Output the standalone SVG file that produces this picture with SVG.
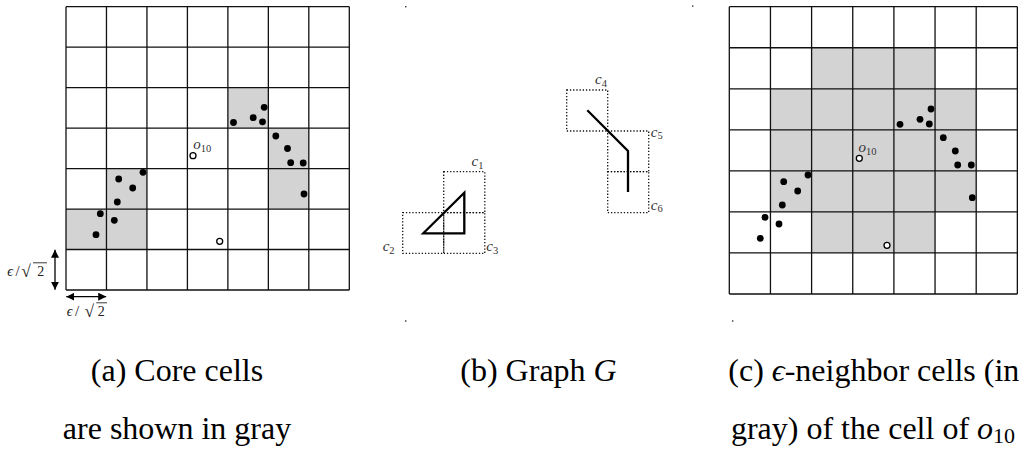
<svg xmlns="http://www.w3.org/2000/svg" width="1024" height="450" viewBox="0 0 1024 450">
<defs>
<style>
.gray{fill:#d3d3d3}
.grid{stroke:#111;stroke-width:1.3;fill:none}
.dots{fill:#000}
.open{fill:#fff;stroke:#000;stroke-width:1.3}
.dotted{fill:none;stroke:#111;stroke-width:1.3;stroke-dasharray:1.3 1.9}
.thick{fill:none;stroke:#000;stroke-width:2.3}
.mark{fill:#333}
.dim{stroke:#000;stroke-width:1.3}
.ovl{stroke:#222;stroke-width:0.9}
</style>
<marker id="ah" viewBox="0 0 10 10" refX="10" refY="5" markerWidth="8" markerHeight="8" markerUnits="userSpaceOnUse" orient="auto-start-reverse">
<path d="M0,0 L10,5 L0,10 Z" fill="#000"/>
</marker>
</defs>
<g id="panel-a">
<g id="a-core-cells" class="gray">
<rect x="227.88" y="87.64" width="40.47" height="40.47"/>
<rect x="268.35" y="128.11" width="40.47" height="80.94"/>
<rect x="106.47" y="168.58" width="40.47" height="40.47"/>
<rect x="66" y="209.05" width="80.94" height="40.47"/>
</g>
<g id="a-grid" class="grid">
<path d="M66,6.7V290M106.47,6.7V290M146.94,6.7V290M187.41,6.7V290M227.88,6.7V290M268.35,6.7V290M308.82,6.7V290M349.3,6.7V290"/>
<path d="M66,6.7H349.3M66,47.17H349.3M66,87.64H349.3M66,128.11H349.3M66,168.58H349.3M66,209.05H349.3M66,249.52H349.3M66,290H349.3"/>
</g>
<g id="a-points" class="dots">
<circle cx="233.5" cy="122.5" r="3.4"/>
<circle cx="253.2" cy="117.7" r="3.4"/>
<circle cx="262.5" cy="121.8" r="3.4"/>
<circle cx="264.2" cy="107.3" r="3.4"/>
<circle cx="275.8" cy="136" r="3.4"/>
<circle cx="287.5" cy="148.5" r="3.4"/>
<circle cx="290.7" cy="162.7" r="3.4"/>
<circle cx="303.2" cy="163" r="3.4"/>
<circle cx="304" cy="194" r="3.4"/>
<circle cx="143" cy="172.3" r="3.4"/>
<circle cx="118.7" cy="179" r="3.4"/>
<circle cx="132.7" cy="188" r="3.4"/>
<circle cx="117.3" cy="202" r="3.4"/>
<circle cx="100.3" cy="213.7" r="3.4"/>
<circle cx="114.3" cy="220.3" r="3.4"/>
<circle cx="96" cy="234.7" r="3.4"/>
</g>
<g id="a-open-points" class="open">
<circle cx="193" cy="155.7" r="3"/>
<circle cx="219.7" cy="241.3" r="3"/>
</g>
<text x="193.3" y="148.5" font-family="Liberation Serif, serif" font-size="15" font-style="italic" fill="#333">o<tspan font-size="10.5" font-style="normal" dy="3">10</tspan></text>
<g id="a-dims">
<line class="dim" x1="55" y1="249.8" x2="55" y2="289.7" marker-start="url(#ah)" marker-end="url(#ah)"/>
<line class="dim" x1="66.3" y1="296.7" x2="106.2" y2="296.7" marker-start="url(#ah)" marker-end="url(#ah)"/>
<g font-family="Liberation Serif, serif" fill="#222">
<text x="7.3" y="276" font-size="14" font-style="italic">ϵ</text>
<text x="15.5" y="276" font-size="15">/</text>
<text x="21.5" y="277" font-size="17">√</text>
<text x="37.3" y="276" font-size="14">2</text>
<text x="66.7" y="316" font-size="14" font-style="italic">ϵ</text>
<text x="74.9" y="316" font-size="15">/</text>
<text x="84.8" y="317" font-size="17">√</text>
<text x="97.7" y="316" font-size="14">2</text>
</g>
<line class="ovl" x1="33" y1="262.8" x2="47" y2="262.8"/>
<line class="ovl" x1="96.3" y1="302.8" x2="107" y2="302.8"/>
</g>
<g font-family="Liberation Serif, serif" font-size="32" text-anchor="middle" fill="#000">
<text x="177" y="381">(a) Core cells</text>
<text x="177" y="438.5">are shown in gray</text>
</g>
</g>

<g id="panel-b">
<g id="b-marks" class="mark">
<rect x="405" y="6" width="1.4" height="1.4"/>
<rect x="692" y="5.4" width="1.4" height="1.4"/>
<rect x="405" y="320.3" width="1.4" height="1.4"/>
</g>
<g id="b-cells" class="dotted">
<rect x="443.7" y="171.7" width="41.1" height="41"/>
<rect x="402.7" y="212.7" width="41" height="40.7"/>
<rect x="443.7" y="212.7" width="41.1" height="40.7"/>
<rect x="566.7" y="90" width="41" height="41"/>
<rect x="607.7" y="131" width="41" height="40.7"/>
<rect x="607.7" y="171.7" width="41" height="41"/>
</g>
<g id="b-graph" class="thick">
<polygon points="423.3,233.3 464.3,192.7 464.3,233.3"/>
<polyline points="587.3,110.3 628,151 628,192"/>
</g>
<g id="b-labels" font-family="Liberation Serif, serif" font-size="15" font-style="italic" fill="#333">
<text x="471.5" y="166">c<tspan font-size="10.5" font-style="normal" dy="2.5">1</tspan></text>
<text x="382.7" y="251">c<tspan font-size="10.5" font-style="normal" dy="2.5">2</tspan></text>
<text x="486.3" y="251">c<tspan font-size="10.5" font-style="normal" dy="2.5">3</tspan></text>
<text x="595" y="84">c<tspan font-size="10.5" font-style="normal" dy="2.5">4</tspan></text>
<text x="650.8" y="136.5">c<tspan font-size="10.5" font-style="normal" dy="2.5">5</tspan></text>
<text x="650.8" y="209.5">c<tspan font-size="10.5" font-style="normal" dy="2.5">6</tspan></text>
</g>
<text x="538.5" y="381" font-family="Liberation Serif, serif" font-size="32" text-anchor="middle" fill="#000">(b) Graph <tspan font-style="italic">G</tspan></text>
</g>

<g id="panel-c">
<rect class="mark" x="732" y="320.3" width="1.4" height="1.4"/>
<path id="c-neighbor-cells" class="gray" d="M811.6,47.74H935.05V88.78H976.2V211.9H935.05V252.94H811.6V211.9H770.45V88.78H811.6Z"/>
<g id="c-grid" class="grid">
<path d="M729.3,6.7V294M770.45,6.7V294M811.6,6.7V294M852.75,6.7V294M893.9,6.7V294M935.05,6.7V294M976.2,6.7V294M1017.35,6.7V294"/>
<path d="M729.3,6.7H1017.35M729.3,47.74H1017.35M729.3,88.78H1017.35M729.3,129.82H1017.35M729.3,170.86H1017.35M729.3,211.9H1017.35M729.3,252.94H1017.35M729.3,294H1017.35"/>
</g>
<g id="c-points" class="dots">
<circle cx="900" cy="124.3" r="3.4"/>
<circle cx="920" cy="119.3" r="3.4"/>
<circle cx="929.3" cy="124" r="3.4"/>
<circle cx="931" cy="109" r="3.4"/>
<circle cx="943.3" cy="137.7" r="3.4"/>
<circle cx="955.3" cy="151" r="3.4"/>
<circle cx="957.7" cy="165" r="3.4"/>
<circle cx="971.3" cy="165" r="3.4"/>
<circle cx="972.3" cy="197.7" r="3.4"/>
<circle cx="808" cy="175" r="3.4"/>
<circle cx="783.7" cy="181.7" r="3.4"/>
<circle cx="797.7" cy="191" r="3.4"/>
<circle cx="782.3" cy="205" r="3.4"/>
<circle cx="765" cy="217.3" r="3.4"/>
<circle cx="779" cy="224" r="3.4"/>
<circle cx="760.3" cy="238.3" r="3.4"/>
</g>
<g id="c-open-points" class="open">
<circle cx="859.3" cy="158.3" r="3"/>
<circle cx="887" cy="245.3" r="3"/>
</g>
<text x="858.5" y="151.5" font-family="Liberation Serif, serif" font-size="15" font-style="italic" fill="#333">o<tspan font-size="10.5" font-style="normal" dy="3">10</tspan></text>
<g font-family="Liberation Serif, serif" font-size="32" text-anchor="middle" fill="#000">
<text x="873.8" y="381">(c) <tspan font-style="italic">ϵ</tspan>-neighbor cells (in</text>
<text x="873" y="438.5">gray) of the cell of <tspan font-style="italic">o</tspan><tspan font-size="22" dy="4">10</tspan></text>
</g>
</g>
</svg>
